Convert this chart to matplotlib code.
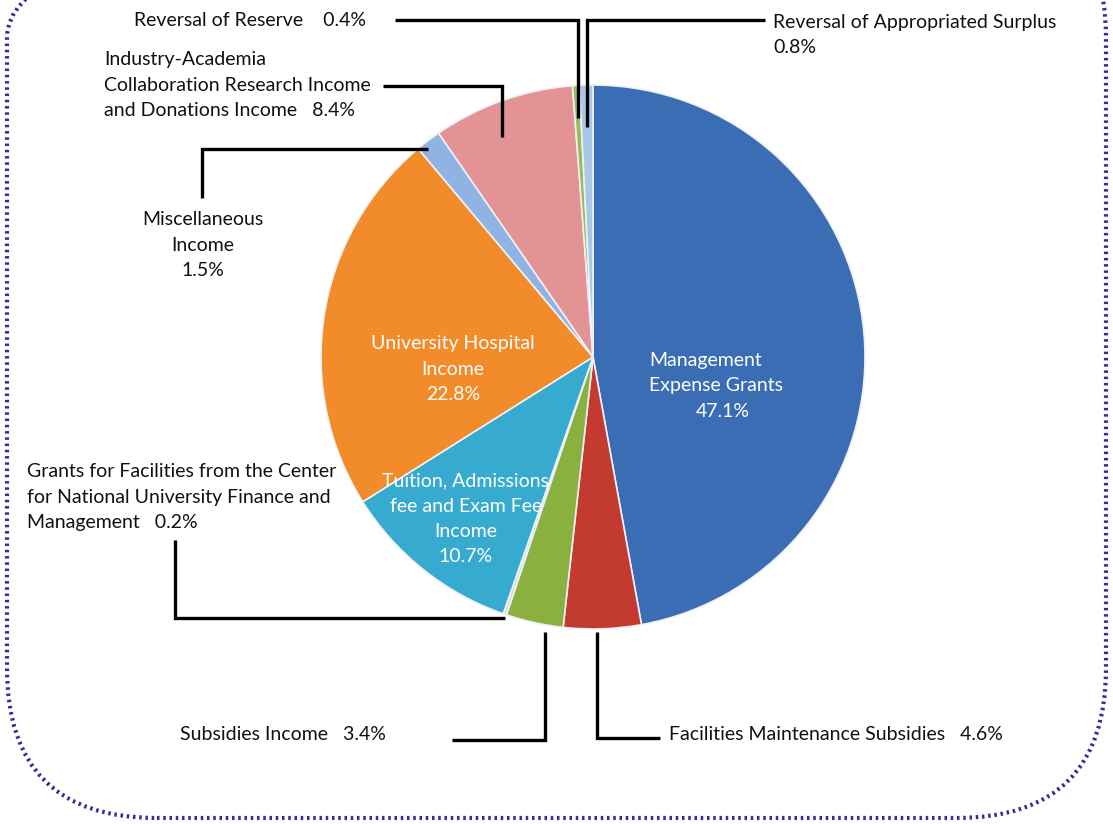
import matplotlib.pyplot as plt
from matplotlib.patches import FancyBboxPatch

# shares in percent, clockwise from 12 o'clock
names = ["Management Expense Grants", "Facilities Maintenance Subsidies", "Subsidies Income",
         "Grants for Facilities", "Tuition", "University Hospital Income",
         "Miscellaneous Income", "Industry-Academia", "Reversal of Reserve",
         "Reversal of Appropriated Surplus"]
shares = [47.1, 4.6, 3.4, 0.2, 10.7, 22.8, 1.5, 8.4, 0.4, 0.8]
colors = ["#3b6db5", "#c23a30", "#8ab13f", "#d9d9e8", "#37aad0", "#f28b29",
          "#8fb3e3", "#e39393", "#9dbb5c", "#a8c8e6"]

W, H = 1113, 824
plt.rcParams['font.family'] = ['Lato', 'DejaVu Sans']

fig = plt.figure(figsize=(W / 100, H / 100), dpi=100)
ax = fig.add_axes([0, 0, 1, 1])


def Y(y):
    # image rows -> data coords
    return H - y


# dotted rounded frame, top runs off the picture
frame = FancyBboxPatch((7, Y(818)), W - 14, 930, boxstyle="round,pad=0,rounding_size=150",
                       fill=False, edgecolor="#2f2f9a", linewidth=3, linestyle=(0, (0.6, 0.9)))
ax.add_patch(frame)

ax.pie(shares, colors=colors, startangle=90, counterclock=False,
       center=(593, Y(357)), radius=272, frame=True,
       wedgeprops=dict(edgecolor="#eef2f6", linewidth=1.2))
ax.set_xlim(0, W)
ax.set_ylim(0, H)
ax.set_aspect('equal')
ax.axis('off')

# leader lines (image coords)
leaders = [
    [(395, 20), (578, 20), (578, 118)],
    [(587, 127), (587, 20), (765, 20)],
    [(383, 86), (502, 86), (502, 137)],
    [(202, 198), (202, 149), (428, 149)],
    [(175, 540), (175, 618), (505, 618)],
    [(452, 740), (545, 740), (545, 632)],
    [(597, 632), (597, 738), (660, 738)],
]
for pts in leaders:
    ax.plot([p[0] for p in pts], [Y(p[1]) for p in pts], color="black", lw=2.4,
            solid_joinstyle='miter', solid_capstyle='butt')

fs = 14
ls = 1.58
txt = dict(fontsize=fs, linespacing=ls, color="#111111")
ax.text(134, Y(20), "Reversal of Reserve    0.4%", ha='left', va='center', **txt)
ax.text(773, Y(35), "Reversal of Appropriated Surplus\n0.8%", ha='left', va='center', **txt)
ax.text(104, Y(85), "Industry-Academia\nCollaboration Research Income\nand Donations Income   8.4%",
        ha='left', va='center', **txt)
ax.text(203, Y(245), "Miscellaneous\nIncome\n1.5%", ha='center', va='center', multialignment='center', **txt)
ax.text(27, Y(497), "Grants for Facilities from the Center\nfor National University Finance and\nManagement   0.2%",
        ha='left', va='center', **txt)
ax.text(180, Y(735), "Subsidies Income   3.4%", ha='left', va='center', **txt)
ax.text(669, Y(734), "Facilities Maintenance Subsidies   4.6%", ha='left', va='center', **txt)

wtxt = dict(fontsize=fs, linespacing=ls, color="white", ha='center', va='center', multialignment='center')
ax.text(453, Y(369), "University Hospital\nIncome\n22.8%", **wtxt)
ax.text(466, Y(519), "Tuition, Admissions\nfee and Exam Fee\nIncome\n10.7%", **wtxt)
ax.text(649, Y(373), "Management\nExpense Grants", color="white", fontsize=fs, linespacing=ls,
        ha='left', va='center')
ax.text(723, Y(411), "47.1%", color="white", fontsize=fs, ha='center', va='center')

fig.savefig("out.png", dpi=100)
